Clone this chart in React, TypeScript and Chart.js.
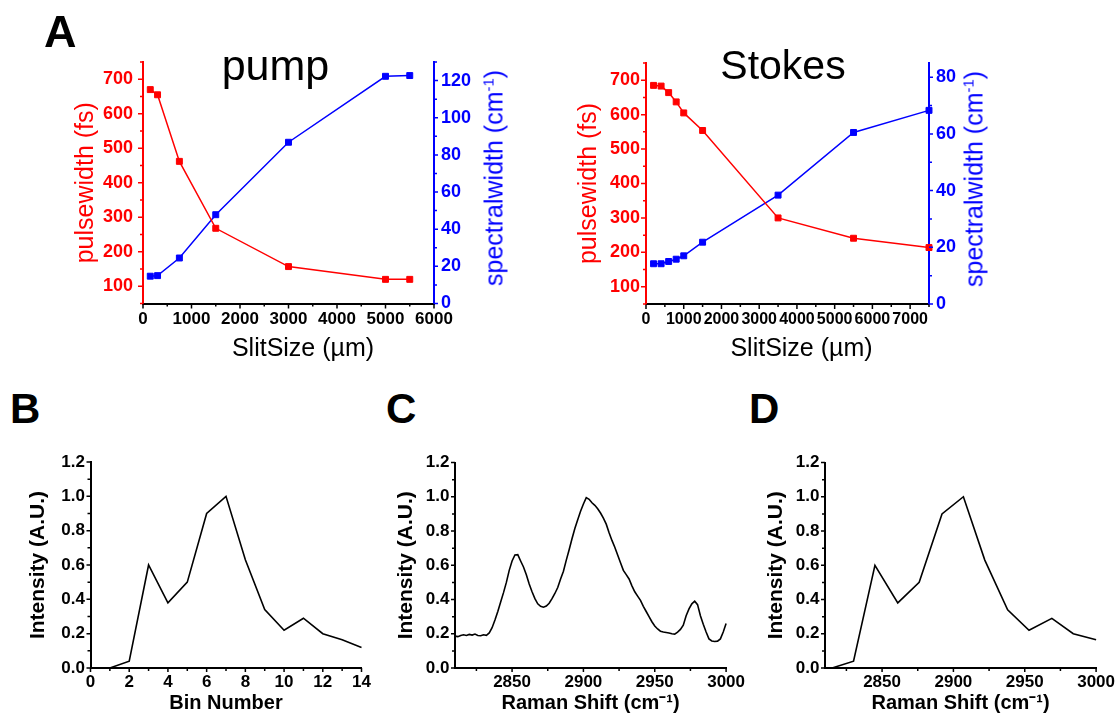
import React, { useEffect, useRef } from 'react';
import { Chart, registerables } from 'chart.js';
Chart.register(...registerables);

const FONT = "'Liberation Sans', Arial, Helvetica, sans-serif";
const RED = '#ff0000';
const BLUE = '#0000ff';
const BLACK = '#000000';

// ---- Panel A: pump ----
const pumpSlitSize = [150, 300, 750, 1500, 3000, 5000, 5500];
const pumpPulsewidth = [670, 655, 462, 268, 157, 120, 120];
const pumpSpectralwidth = [14.7, 15, 24.5, 47.8, 86.8, 122.3, 122.7];

// ---- Panel A: Stokes ----
const stokesSlitSize = [200, 400, 600, 800, 1000, 1500, 3500, 5500, 7500];
const stokesPulsewidth = [685, 683, 664, 637, 605, 554, 300, 241, 214];
const stokesSpectralwidth = [14.2, 14.2, 15, 15.8, 17, 21.8, 38.4, 60.5, 68.3];

// ---- Panel B ----
const binNumber = [1, 2, 3, 4, 5, 6, 7, 8, 9, 10, 11, 12, 13, 14];
const binIntensity = [0, 0.04, 0.6, 0.38, 0.5, 0.9, 1.0, 0.63, 0.34, 0.22, 0.29, 0.2, 0.165, 0.12];

// ---- Panel C ----
const ramanShiftC = [
  2810, 2812, 2814, 2816, 2818, 2820, 2822, 2824, 2826, 2828, 2830, 2832, 2834, 2836, 2838, 2840,
  2842, 2844, 2846, 2848, 2850, 2852, 2854, 2856, 2858, 2860, 2862, 2864, 2866, 2868, 2870, 2872,
  2874, 2876, 2878, 2880, 2882, 2884, 2886, 2888, 2890, 2892, 2894, 2896, 2898, 2900, 2902, 2904,
  2906, 2908, 2910, 2912, 2914, 2916, 2918, 2920, 2922, 2924, 2926, 2928, 2930, 2932, 2934, 2936,
  2938, 2940, 2942, 2944, 2946, 2948, 2950, 2952, 2954, 2956, 2958, 2960, 2962, 2964, 2966, 2968,
  2970, 2972, 2974, 2976, 2978, 2980, 2982, 2984, 2986, 2988, 2990, 2992, 2994, 2996, 2998, 3000,
];
const intensityC = [
  0.186, 0.183, 0.19, 0.194, 0.19, 0.196, 0.192, 0.198, 0.19, 0.188, 0.194, 0.191, 0.205, 0.235, 0.28, 0.33,
  0.385, 0.44, 0.5, 0.57, 0.625, 0.66, 0.662, 0.625, 0.59, 0.545, 0.49, 0.445, 0.405, 0.375, 0.36, 0.355,
  0.362, 0.378, 0.405, 0.435, 0.47, 0.52, 0.565, 0.63, 0.69, 0.755, 0.815, 0.865, 0.915, 0.958, 0.995, 0.985,
  0.965, 0.95, 0.93, 0.905, 0.875, 0.84, 0.79, 0.745, 0.705, 0.66, 0.615, 0.57, 0.545, 0.52, 0.48, 0.445,
  0.42, 0.395, 0.36, 0.33, 0.3, 0.27, 0.245, 0.228, 0.215, 0.21, 0.207, 0.204, 0.2, 0.198, 0.21, 0.225,
  0.25, 0.305, 0.345, 0.375, 0.39, 0.37, 0.305, 0.255, 0.21, 0.17, 0.158, 0.155, 0.157, 0.17, 0.21, 0.26,
];

// ---- Panel D ----
const ramanShiftD = [2815, 2830, 2845, 2861, 2876, 2892, 2907, 2922, 2938, 2953, 2969, 2984, 3000];
const intensityD = [0, 0.04, 0.6, 0.38, 0.5, 0.9, 1.0, 0.63, 0.34, 0.22, 0.29, 0.2, 0.165];

const isMult = (v: number, m: number) => Math.abs(v / m - Math.round(v / m)) < 1e-6;

type TickCfg = { major: number; color: string; majorLen: number; minorLen: number; width: number };

function tickMarks(cfg: Record<string, TickCfg>) {
  return {
    id: 'originTicks',
    afterDraw(chart: any) {
      const ctx = chart.ctx;
      ctx.save();
      for (const id of Object.keys(cfg)) {
        const s = chart.scales[id];
        if (!s) continue;
        const c = cfg[id];
        ctx.strokeStyle = c.color;
        ctx.lineWidth = c.width;
        ctx.beginPath();
        for (const t of s.ticks) {
          const v = t.value;
          const len = isMult(v, c.major) ? c.majorLen : c.minorLen;
          const p = s.getPixelForValue(v);
          if (s.position === 'bottom') {
            ctx.moveTo(p, s.top);
            ctx.lineTo(p, s.top + len);
          } else if (s.position === 'left') {
            ctx.moveTo(s.right, p);
            ctx.lineTo(s.right - len, p);
          } else {
            ctx.moveTo(s.left, p);
            ctx.lineTo(s.left + len, p);
          }
        }
        ctx.stroke();
      }
      ctx.restore();
    },
  };
}

function axis(o: any) {
  const vertical = o.position !== 'bottom';
  return {
    type: 'linear',
    position: o.position,
    min: o.min,
    max: o.max,
    grid: { display: false, drawOnChartArea: false, drawTicks: true, tickLength: o.tick },
    border: { display: true, color: o.color, width: o.bw },
    ticks: {
      stepSize: o.step,
      maxTicksLimit: 1000,
      autoSkip: false,
      maxRotation: 0,
      minRotation: 0,
      includeBounds: false,
      color: o.color,
      padding: o.pad,
      font: { family: FONT, size: o.size, weight: 'bold' },
      callback: (v: number) => (isMult(v, o.major) ? o.fmt(v) : ''),
    },
    title: o.title
      ? {
          display: true,
          text: o.title.text,
          color: o.title.color,
          font: { family: FONT, size: o.title.size, weight: o.title.bold ? 'bold' : 'normal' },
          padding: { top: o.title.pad, bottom: o.title.pad },
        }
      : { display: false },
    afterFit: (s: any) => {
      if (vertical) s.width = o.fit;
      else s.height = o.fit;
    },
  };
}

const pts = (xs: number[], ys: number[]) => xs.map((x, i) => ({ x, y: ys[i] }));

function squareSeries(xs: number[], ys: number[], color: string, axisId: string) {
  return {
    data: pts(xs, ys),
    yAxisID: axisId,
    borderColor: color,
    backgroundColor: color,
    borderWidth: 1.5,
    pointStyle: 'rect',
    pointRadius: 4.2,
    pointBorderWidth: 1,
    pointBackgroundColor: color,
    pointBorderColor: color,
    tension: 0,
    clip: false,
  };
}

function lineSeries(xs: number[], ys: number[]) {
  return {
    data: pts(xs, ys),
    yAxisID: 'y',
    borderColor: BLACK,
    borderWidth: 1.6,
    pointRadius: 0,
    tension: 0,
    clip: false,
  };
}

const baseOptions = (padding: any) => ({
  responsive: false,
  maintainAspectRatio: false,
  animation: false,
  devicePixelRatio: 1,
  layout: { padding },
  plugins: { legend: { display: false }, tooltip: { enabled: false }, title: { display: false } },
  events: [],
});

const fmtInt = (v: number) => String(Math.round(v));
const fmt1 = (v: number) => v.toFixed(1);

function pumpConfig() {
  return {
    type: 'line',
    data: {
      datasets: [
        squareSeries(pumpSlitSize, pumpPulsewidth, RED, 'y'),
        squareSeries(pumpSlitSize, pumpSpectralwidth, BLUE, 'y2'),
      ],
    },
    options: {
      ...baseOptions({ top: 22, left: 0, right: 0, bottom: 0 }),
      scales: {
        x: axis({ position: 'bottom', min: 0, max: 6000, step: 500, major: 1000, color: BLACK, size: 17, fmt: fmtInt, pad: 1, tick: 5, fit: 66.5, bw: 2 }),
        y: axis({
          position: 'left', min: 50, max: 750, step: 50, major: 100, color: RED, size: 18, fmt: fmtInt, pad: 5, tick: 5, fit: 103, bw: 2,
          title: { text: 'pulsewidth (fs)', color: RED, size: 25, bold: false, pad: 31 },
        }),
        y2: axis({ position: 'right', min: 0, max: 130, step: 10, major: 20, color: BLUE, size: 18, fmt: fmtInt, pad: 3, tick: 4, fit: 106, bw: 2 }),
      },
    },
    plugins: [
      tickMarks({
        x: { major: 1000, color: BLACK, majorLen: 5, minorLen: 3, width: 1.5 },
        y: { major: 100, color: RED, majorLen: 5, minorLen: 3, width: 1.5 },
        y2: { major: 20, color: BLUE, majorLen: 4, minorLen: 3, width: 1.5 },
      }),
    ],
  };
}

function stokesConfig() {
  return {
    type: 'line',
    data: {
      datasets: [
        squareSeries(stokesSlitSize, stokesPulsewidth, RED, 'y'),
        squareSeries(stokesSlitSize, stokesSpectralwidth, BLUE, 'y2'),
      ],
    },
    options: {
      ...baseOptions({ top: 23, left: 0, right: 0, bottom: 0 }),
      scales: {
        x: axis({ position: 'bottom', min: 0, max: 7500, step: 500, major: 1000, color: BLACK, size: 16, fmt: fmtInt, pad: 1, tick: 5, fit: 66, bw: 2 }),
        y: axis({
          position: 'left', min: 50, max: 750, step: 50, major: 100, color: RED, size: 18, fmt: fmtInt, pad: 1, tick: 5, fit: 96, bw: 2,
          title: { text: 'pulsewidth (fs)', color: RED, size: 25, bold: false, pad: 24 },
        }),
        y2: axis({ position: 'right', min: 0, max: 85, step: 10, major: 20, color: BLUE, size: 18, fmt: fmtInt, pad: 3, tick: 4, fit: 121, bw: 2 }),
      },
    },
    plugins: [
      tickMarks({
        x: { major: 1000, color: BLACK, majorLen: 5, minorLen: 3, width: 1.5 },
        y: { major: 100, color: RED, majorLen: 5, minorLen: 3, width: 1.5 },
        y2: { major: 20, color: BLUE, majorLen: 4, minorLen: 3, width: 1.5 },
      }),
    ],
  };
}

function intensityConfig(xs: number[], ys: number[], opts: any) {
  return {
    type: 'line',
    data: { datasets: [lineSeries(xs, ys)] },
    options: {
      ...baseOptions({ top: opts.padTop, left: 0, right: opts.padRight, bottom: 0 }),
      scales: {
        x: axis({
          position: 'bottom', min: opts.xmin, max: opts.xmax, step: opts.xstep, major: opts.xmajor, color: BLACK, size: 17, fmt: fmtInt, pad: 0, tick: 4, fit: 54, bw: 2,
          title: { text: opts.xtitle, color: BLACK, size: 20, bold: true, pad: 7 },
        }),
        y: axis({
          position: 'left', min: 0, max: 1.2, step: 0.1, major: 0.2, color: BLACK, size: 17, fmt: fmt1, pad: 1.5, tick: 4, fit: opts.yfit, bw: 2,
          title: { text: 'Intensity (A.U.)', color: BLACK, size: 21, bold: true, pad: opts.ytitlePad },
        }),
      },
    },
    plugins: [
      tickMarks({
        x: { major: opts.xmajor, color: BLACK, majorLen: 4, minorLen: 3, width: 1.5 },
        y: { major: 0.2, color: BLACK, majorLen: 4, minorLen: 3, width: 1.5 },
      }),
    ],
  };
}

function ChartCanvas({ left, top, width, height, make }: any) {
  const ref = useRef<HTMLCanvasElement>(null);
  useEffect(() => {
    const chart = new Chart(ref.current as HTMLCanvasElement, make() as any);
    return () => chart.destroy();
  }, []);
  return (
    <canvas
      ref={ref}
      width={width}
      height={height}
      style={{ position: 'absolute', left, top, width, height, display: 'block' }}
    />
  );
}

const textBase: React.CSSProperties = {
  position: 'absolute',
  fontFamily: FONT,
  lineHeight: 1,
  whiteSpace: 'nowrap',
  margin: 0,
  color: BLACK,
};

function RotatedTitle({ cx, cy, color, children }: any) {
  return (
    <div
      style={{
        ...textBase,
        left: cx,
        top: cy,
        color,
        fontSize: 25,
        transform: 'translate(-50%, -50%) rotate(-90deg)',
      }}
    >
      {children}
    </div>
  );
}

export default function App() {
  return (
    <div style={{ position: 'absolute', left: 0, top: 0, width: 1115, height: 722, background: '#ffffff', overflow: 'hidden' }}>
      <ChartCanvas left={40} top={40} width={500} height={330} make={pumpConfig} />
      <ChartCanvas left={550} top={40} width={500} height={330} make={stokesConfig} />
      <ChartCanvas
        left={0}
        top={440}
        width={380}
        height={282}
        make={() =>
          intensityConfig(binNumber, binIntensity, {
            padTop: 22, padRight: 18.5, xmin: 0, xmax: 14, xstep: 1, xmajor: 2, xtitle: 'Bin Number', yfit: 90.5, ytitlePad: 26,
          })
        }
      />
      <ChartCanvas
        left={370}
        top={440}
        width={375}
        height={282}
        make={() =>
          intensityConfig(ramanShiftC, intensityC, {
            padTop: 22.5, padRight: 18, xmin: 2810, xmax: 3000, xstep: 25, xmajor: 50, xtitle: 'Raman Shift (cm⁻¹)', yfit: 85, ytitlePad: 24,
          })
        }
      />
      <ChartCanvas
        left={740}
        top={440}
        width={375}
        height={282}
        make={() =>
          intensityConfig(ramanShiftD, intensityD, {
            padTop: 22.5, padRight: 18.3, xmin: 2810, xmax: 3000, xstep: 25, xmajor: 50, xtitle: 'Raman Shift (cm⁻¹)', yfit: 85, ytitlePad: 24,
          })
        }
      />

      {/* panel letters */}
      <div style={{ ...textBase, left: 44, top: 9, fontSize: 45, fontWeight: 'bold' }}>A</div>
      <div style={{ ...textBase, left: 10, top: 387.5, fontSize: 42, fontWeight: 'bold' }}>B</div>
      <div style={{ ...textBase, left: 386, top: 387.5, fontSize: 42, fontWeight: 'bold' }}>C</div>
      <div style={{ ...textBase, left: 749, top: 387.5, fontSize: 42, fontWeight: 'bold' }}>D</div>

      {/* panel titles */}
      <div style={{ ...textBase, left: 125.5, width: 300, textAlign: 'center', top: 43.6, fontSize: 43 }}>pump</div>
      <div style={{ ...textBase, left: 633, width: 300, textAlign: 'center', top: 44.6, fontSize: 41 }}>Stokes</div>

      {/* x-axis titles of panel A */}
      <div style={{ ...textBase, left: 153, width: 300, textAlign: 'center', top: 334.8, fontSize: 25 }}>SlitSize (µm)</div>
      <div style={{ ...textBase, left: 651.5, width: 300, textAlign: 'center', top: 334.8, fontSize: 25 }}>SlitSize (µm)</div>

      {/* right axis titles of panel A */}
      <RotatedTitle cx={494.3} cy={177.5} color={BLUE}>
        spectralwidth (cm<span style={{ fontSize: 15, position: 'relative', top: -9 }}>-1</span>)
      </RotatedTitle>
      <RotatedTitle cx={974.3} cy={179} color={BLUE}>
        spectralwidth (cm<span style={{ fontSize: 15, position: 'relative', top: -9 }}>-1</span>)
      </RotatedTitle>
    </div>
  );
}
